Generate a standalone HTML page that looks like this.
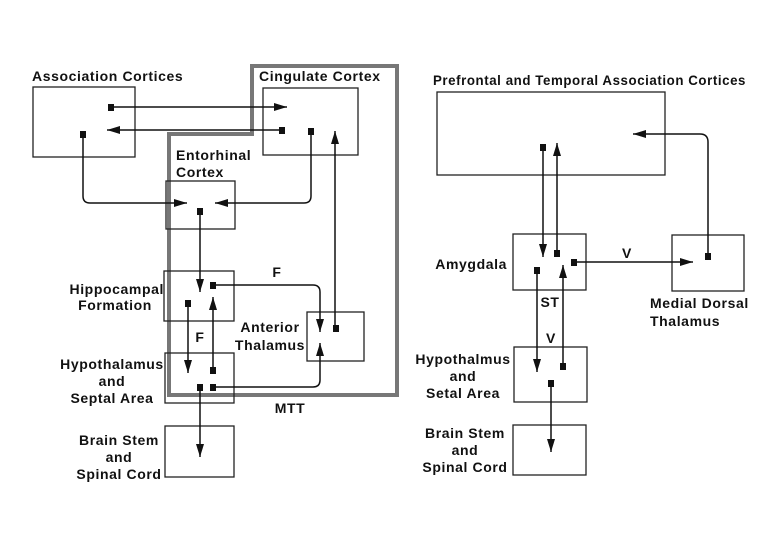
<!DOCTYPE html>
<html><head><meta charset="utf-8"><style>
html,body{margin:0;padding:0;background:#fff;}
svg{display:block;}
text{font-family:"Liberation Sans",Arial,sans-serif;font-weight:bold;font-size:14px;letter-spacing:0.6px;fill:#111;}
</style></head><body>
<svg width="780" height="540" viewBox="0 0 780 540" xmlns="http://www.w3.org/2000/svg">
<defs>
<marker id="a" markerUnits="userSpaceOnUse" markerWidth="14" markerHeight="8" refX="13" refY="4" orient="auto">
<path d="M0,0 L13,4 L0,8 Z" fill="#111"/></marker>
</defs>
<g fill="none" stroke="#222" stroke-width="1.3">
<path d="M252,66 L397,66 L397,395 L169,395 L169,134 L252,134 Z" stroke="#777" stroke-width="4"/>
<rect x="33" y="87" width="102" height="70"/>
<rect x="263" y="88" width="95" height="67"/>
<rect x="166" y="181" width="69" height="48"/>
<rect x="164" y="271" width="70" height="50"/>
<rect x="165" y="353" width="69" height="50"/>
<rect x="165" y="426" width="69" height="51"/>
<rect x="307" y="312" width="57" height="49"/>
<rect x="437" y="92" width="228" height="83"/>
<rect x="513" y="234" width="73" height="56"/>
<rect x="672" y="235" width="72" height="56"/>
<rect x="514" y="347" width="73" height="55"/>
<rect x="513" y="425" width="73" height="50"/>
</g>
<g fill="none" stroke="#111" stroke-width="1.5" marker-end="url(#a)">
<path d="M111,107 L287,107"/>
<path d="M282,130 L107,130"/>
<path d="M83,134 L83,196 Q83,203 90,203 L187,203"/>
<path d="M311,131 L311,196 Q311,203 304,203 L215,203"/>
<path d="M335,328 L335,131"/>
<path d="M200,211 L200,292"/>
<path d="M213,285 L313,285 Q320,285 320,292 L320,332"/>
<path d="M188,303 L188,373"/>
<path d="M213,370 L213,297"/>
<path d="M213,387 L313,387 Q320,387 320,380 L320,343"/>
<path d="M200,387 L200,457"/>
<path d="M543,147 L543,257"/>
<path d="M557,253 L557,143"/>
<path d="M708,256 L708,142 Q708,134 700,134 L633,134"/>
<path d="M574,262 L693,262"/>
<path d="M537,270 L537,372"/>
<path d="M563,366 L563,265"/>
<path d="M551,383 L551,452"/>
</g>
<g fill="#111">
<rect x="108" y="104" width="6" height="7"/>
<rect x="279" y="127" width="6" height="7"/>
<rect x="80" y="131" width="6" height="7"/>
<rect x="308" y="128" width="6" height="7"/>
<rect x="197" y="208" width="6" height="7"/>
<rect x="210" y="282" width="6" height="7"/>
<rect x="185" y="300" width="6" height="7"/>
<rect x="210" y="367" width="6" height="7"/>
<rect x="197" y="384" width="6" height="7"/>
<rect x="210" y="384" width="6" height="7"/>
<rect x="333" y="325" width="6" height="7"/>
<rect x="540" y="144" width="6" height="7"/>
<rect x="554" y="250" width="6" height="7"/>
<rect x="571" y="259" width="6" height="7"/>
<rect x="534" y="267" width="6" height="7"/>
<rect x="705" y="253" width="6" height="7"/>
<rect x="560" y="363" width="6" height="7"/>
<rect x="548" y="380" width="6" height="7"/>
</g>
<text x="32" y="81">Association Cortices</text>
<text x="259" y="81">Cingulate Cortex</text>
<text x="176" y="160">Entorhinal</text>
<text x="176" y="177">Cortex</text>
<text x="164" y="294" text-anchor="end">Hippocampal</text>
<text x="115" y="310" text-anchor="middle">Formation</text>
<text x="277" y="277" text-anchor="middle">F</text>
<text x="200" y="342" text-anchor="middle">F</text>
<text x="270" y="332" text-anchor="middle">Anterior</text>
<text x="270" y="350" text-anchor="middle">Thalamus</text>
<text x="112" y="369" text-anchor="middle">Hypothalamus</text>
<text x="112" y="386" text-anchor="middle">and</text>
<text x="112" y="403" text-anchor="middle">Septal Area</text>
<text x="290" y="413" text-anchor="middle">MTT</text>
<text x="119" y="445" text-anchor="middle">Brain Stem</text>
<text x="119" y="462" text-anchor="middle">and</text>
<text x="119" y="479" text-anchor="middle">Spinal Cord</text>
<text x="433" y="85" textLength="313" lengthAdjust="spacingAndGlyphs">Prefrontal and Temporal Association Cortices</text>
<text x="507" y="269" text-anchor="end">Amygdala</text>
<text x="627" y="258" text-anchor="middle">V</text>
<text x="550" y="307" text-anchor="middle">ST</text>
<text x="551" y="343" text-anchor="middle">V</text>
<text x="650" y="308">Medial Dorsal</text>
<text x="650" y="326">Thalamus</text>
<text x="463" y="364" text-anchor="middle">Hypothalmus</text>
<text x="463" y="381" text-anchor="middle">and</text>
<text x="463" y="398" text-anchor="middle">Setal Area</text>
<text x="465" y="438" text-anchor="middle">Brain Stem</text>
<text x="465" y="455" text-anchor="middle">and</text>
<text x="465" y="472" text-anchor="middle">Spinal Cord</text>
</svg>
</body></html>
